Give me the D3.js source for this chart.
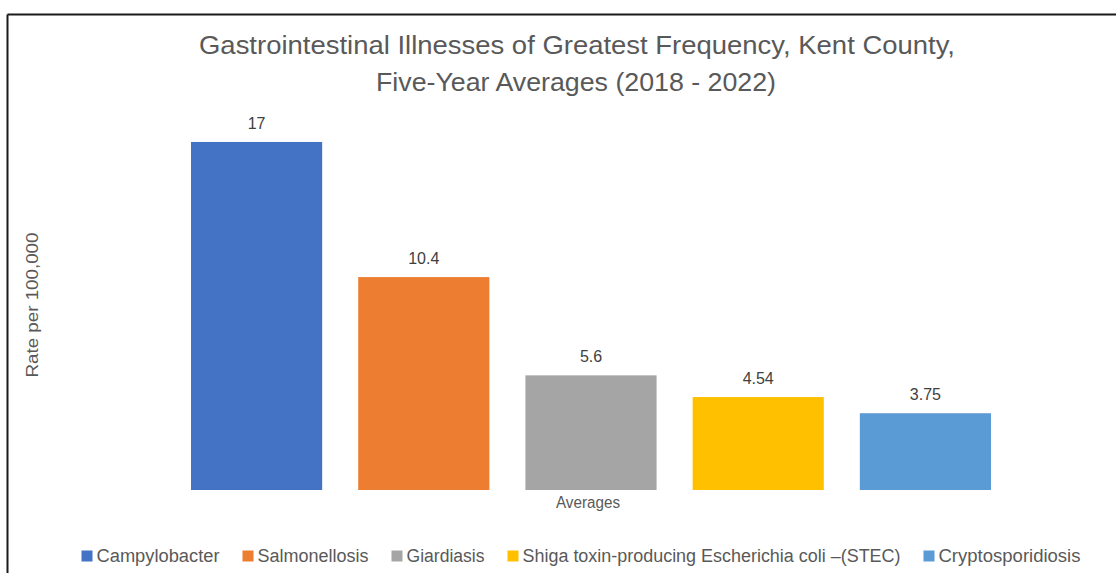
<!DOCTYPE html>
<html>
<head>
<meta charset="utf-8">
<script src="https://cdn.jsdelivr.net/npm/d3@7"></script>
<style>
  body { margin: 0; background: #fff; }
  svg { display: block; }
  text { font-family: "Liberation Sans", Arial, sans-serif; }
</style>
</head>
<body>
<svg id="chart" width="1116" height="573"></svg>
<script>
// chart data
const seriesNames = ["Campylobacter", "Salmonellosis", "Giardiasis", "Shiga toxin-producing Escherichia coli \u2013(STEC)", "Cryptosporidiosis"];
const seriesValues = [17, 10.4, 5.6, 4.54, 3.75];
const valueLabels = ["17", "10.4", "5.6", "4.54", "3.75"];
const category = "Averages";
const titleLines = ["Gastrointestinal Illnesses of Greatest Frequency, Kent County,", "Five-Year Averages (2018 - 2022)"];
const yTitle = "Rate per 100,000";

const colors = ["#4472C4", "#ED7D31", "#A5A5A5", "#FFC000", "#5B9BD5"];
// widths of the narrow Calibri-like text in the original
const legendWidths = [123, 111, 78, 378, 142];

const svg = d3.select("#chart");
const W = 1116, H = 573;

// frame (chart is cropped, only top and left edges show)
svg.append("line").attr("x1", 7.5).attr("x2", W).attr("y1", 14.5).attr("y2", 14.5)
    .attr("stroke", "#1a1a1a").attr("stroke-width", 2);
svg.append("line").attr("x1", 7.5).attr("x2", 7.5).attr("y1", 14.5).attr("y2", H)
    .attr("stroke", "#1a1a1a").attr("stroke-width", 2);

// title
svg.append("text").attr("x", 577).attr("y", 54).attr("text-anchor", "middle")
    .attr("font-size", 26).attr("fill", "#595959")
    .attr("textLength", 756).attr("lengthAdjust", "spacingAndGlyphs")
    .text(titleLines[0]);
svg.append("text").attr("x", 576).attr("y", 91).attr("text-anchor", "middle")
    .attr("font-size", 26).attr("fill", "#595959")
    .attr("textLength", 400).attr("lengthAdjust", "spacingAndGlyphs")
    .text(titleLines[1]);

// scales
const x = d3.scaleBand().domain(seriesNames).range([191, 991])
    .paddingInner(36 / 167).paddingOuter(0);
const y = d3.scaleLinear().domain([0, 18]).range([490, 121.5]);

// bars
svg.append("g").selectAll("rect").data(seriesValues).join("rect")
    .attr("x", (d, i) => x(seriesNames[i]))
    .attr("y", d => y(d))
    .attr("width", x.bandwidth())
    .attr("height", d => y(0) - y(d))
    .attr("fill", (d, i) => colors[i]);

// value labels
svg.append("g").selectAll("text").data(seriesValues).join("text")
    .attr("x", (d, i) => x(seriesNames[i]) + x.bandwidth() / 2)
    .attr("y", d => y(d) - 13)
    .attr("text-anchor", "middle")
    .attr("font-size", 16).attr("fill", "#404040")
    .text((d, i) => valueLabels[i]);

// category label under the group
svg.append("text").attr("x", 588).attr("y", 508).attr("text-anchor", "middle")
    .attr("font-size", 16).attr("fill", "#595959")
    .attr("textLength", 64).attr("lengthAdjust", "spacingAndGlyphs")
    .text(category);

// y axis title
svg.append("text")
    .attr("transform", "translate(38,305) rotate(-90)")
    .attr("text-anchor", "middle")
    .attr("font-size", 16).attr("fill", "#595959")
    .attr("textLength", 145).attr("lengthAdjust", "spacingAndGlyphs")
    .text(yTitle);

// legend
const sq = 11, gapText = 4, gapItem = 23;
const totalW = d3.sum(legendWidths) + seriesNames.length * (sq + gapText) + (seriesNames.length - 1) * gapItem;
let lx = 581 - totalW / 2;
const legend = svg.append("g");
seriesNames.forEach((name, i) => {
    const g = legend.append("g").attr("transform", `translate(${lx},556)`);
    g.append("rect").attr("x", 0).attr("y", -sq / 2).attr("width", sq).attr("height", sq)
        .attr("fill", colors[i]);
    g.append("text").attr("x", sq + gapText).attr("y", 6)
        .attr("font-size", 18).attr("fill", "#595959")
        .attr("textLength", legendWidths[i]).attr("lengthAdjust", "spacingAndGlyphs")
        .text(name);
    lx += sq + gapText + legendWidths[i] + gapItem;
});
</script>
</body>
</html>
